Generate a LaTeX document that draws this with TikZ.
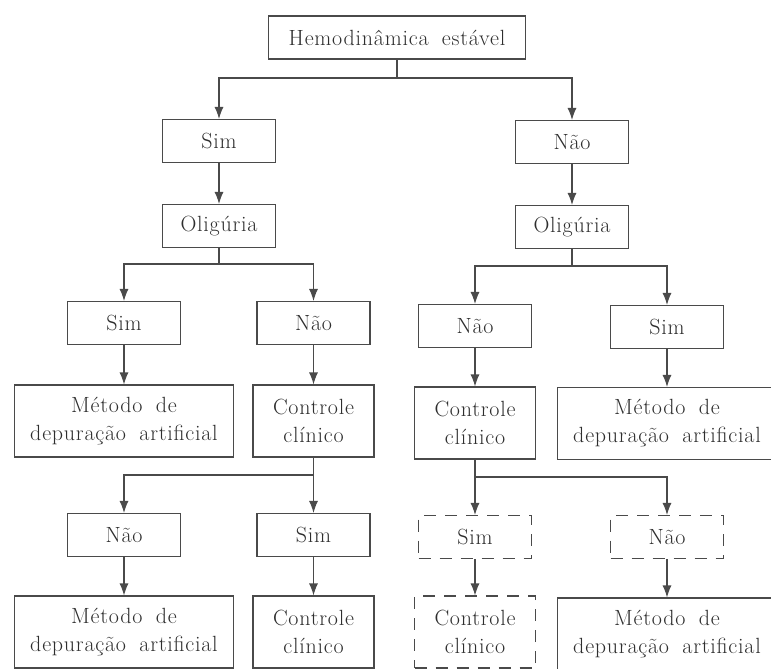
\documentclass[tikz,border=0pt]{standalone}
\usepackage{fontspec}
\setmainfont{Latin Modern Roman}[LetterSpace=3.5, WordSpace=1.8]
\usetikzlibrary{arrows.meta}

\definecolor{linegray}{HTML}{4A4A4A}
\definecolor{textgray}{HTML}{2E2E2E}

\tikzset{
  box/.style={draw=linegray, line width=1.1pt, text=textgray, inner sep=0pt,
    minimum width=113pt, minimum height=43pt, align=center,
    font=\fontsize{22}{28}\selectfont},
  widebox/.style={box, minimum width=219pt, minimum height=72pt},
  ctrlbox/.style={box, minimum width=121pt, minimum height=72pt},
  dashbox/.style={dash pattern=on 12pt off 9pt},
  link/.style={draw=linegray, line width=1.1pt},
  arr/.style={link, -{Latex[length=12pt,width=9pt]}}
}

\begin{document}
\begin{tikzpicture}[x=1pt, y=-1pt]
\useasboundingbox (0,0) rectangle (771,669);

% Root
\node[box, minimum width=257pt] (hemo) at (397,37.5) {Hemodinâmica estável};

% Row 1
\node[box] (sim) at (219,141) {Sim};
\node[box] (nao) at (572,142) {Não};

% Row 2
\node[box] (oligA) at (219,226) {Oligúria};
\node[box] (oligB) at (572,227) {Oligúria};

% Row 3
\node[box] (simA) at (124,323) {Sim};
\node[box] (naoA) at (313.5,323) {Não};
\node[box] (naoB) at (475,326) {Não};
\node[box] (simB) at (667,327) {Sim};

% Row 4
\node[widebox] (metA) at (124,421) {Método de\\depuração artificial};
\node[ctrlbox] (ctrlA) at (313.5,421) {Controle\\clínico};
\node[ctrlbox] (ctrlB) at (475,423) {Controle\\clínico};
\node[widebox] (metB) at (667,423.5) {Método de\\depuração artificial};

% Row 5
\node[box] (naoC) at (124,535) {Não};
\node[box] (simC) at (313.5,535) {Sim};
\node[box, dashbox] (simD) at (475,537) {Sim};
\node[box, dashbox] (naoD) at (667,537) {Não};

% Row 6
\node[widebox] (metC) at (124,632) {Método de\\depuração artificial};
\node[ctrlbox] (ctrlC) at (313.5,632) {Controle\\clínico};
\node[ctrlbox, dashbox] (ctrlD) at (475,632) {Controle\\clínico};
\node[widebox] (metD) at (667,634) {Método de\\depuração artificial};

% Branch points
\coordinate (j0) at (397,78);
\coordinate (j1) at (219,264);
\coordinate (j2) at (572,266);
\coordinate (j3) at (313.5,475);
\coordinate (j4) at (475,477);

% Connectors
\draw[link] (hemo) -- (j0);
\draw[arr] (j0) -| (sim);
\draw[arr] (j0) -| (nao);
\draw[arr] (sim) -- (oligA);
\draw[arr] (nao) -- (oligB);

\draw[link] (oligA) -- (j1);
\draw[arr] (j1) -| (simA);
\draw[arr] (j1) -| (naoA);
\draw[link] (oligB) -- (j2);
\draw[arr] (j2) -| (naoB);
\draw[arr] (j2) -| (simB);

\draw[arr] (simA) -- (metA);
\draw[arr] (naoA) -- (ctrlA);
\draw[arr] (naoB) -- (ctrlB);
\draw[arr] (simB) -- (metB);

\draw[link] (ctrlA) -- (j3);
\draw[arr] (j3) -| (naoC);
\draw[arr] (j3) -- (simC);
\draw[link] (ctrlB) -- (j4);
\draw[arr] (j4) -- (simD);
\draw[arr] (j4) -| (naoD);

\draw[arr] (naoC) -- (metC);
\draw[arr] (simC) -- (ctrlC);
\draw[arr] (simD) -- (ctrlD);
\draw[arr] (naoD) -- (metD);

\end{tikzpicture}
\end{document}
